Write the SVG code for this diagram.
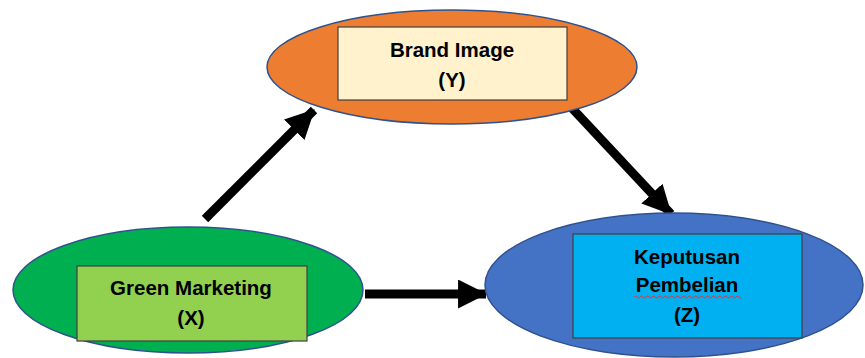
<svg xmlns="http://www.w3.org/2000/svg" width="865" height="358" viewBox="0 0 865 358">
<style>
.ell{stroke:#2F528F;stroke-width:1.5}
.box{stroke:#404040;stroke-width:1.2}
.lbl{font-family:"Liberation Sans",Arial,sans-serif;font-weight:bold;font-size:20.5px;fill:#000;text-anchor:middle}
.con{stroke:#000;stroke-width:9;fill:none}
</style>
<defs>
<marker id="ah" viewBox="0 0 28 28" refX="27" refY="14" markerWidth="29" markerHeight="29" markerUnits="userSpaceOnUse" orient="auto">
<path d="M0,0 L28,14 L0,28 z" fill="#000"/>
</marker>
</defs>
<rect width="865" height="358" fill="#fff"/>
<g id="connectors">
<line class="con" x1="205" y1="219" x2="314" y2="110" marker-end="url(#ah)"/>
<line class="con" x1="570" y1="106" x2="671" y2="214" marker-end="url(#ah)"/>
<line class="con" x1="365" y1="294" x2="486" y2="294" marker-end="url(#ah)"/>
</g>
<g id="brand-image">
<ellipse class="ell" cx="452" cy="67" rx="185" ry="57" fill="#ED7D31"/>
<rect class="box" x="338" y="27" width="229" height="73" fill="#FFF2CC"/>
<text class="lbl" x="452" y="57">Brand Image</text>
<text class="lbl" x="452" y="87">(Y)</text>
</g>
<g id="green-marketing">
<ellipse class="ell" cx="188" cy="290" rx="175" ry="63" fill="#00B050"/>
<rect class="box" x="77" y="266" width="230" height="75" fill="#92D050"/>
<text class="lbl" x="191" y="295">Green Marketing</text>
<text class="lbl" x="191" y="325">(X)</text>
</g>
<g id="keputusan-pembelian">
<ellipse class="ell" cx="674" cy="285" rx="189" ry="72" fill="#4472C4"/>
<rect class="box" x="573" y="234" width="229" height="104" fill="#00B0F0"/>
<text class="lbl" x="687" y="264">Keputusan</text>
<text class="lbl" x="687" y="292">Pembelian</text>
<path d="M634,297 q1.5,-2 3,0 t3,0 t3,0 t3,0 t3,0 t3,0 t3,0 t3,0 t3,0 t3,0 t3,0 t3,0 t3,0 t3,0 t3,0 t3,0 t3,0 t3,0 t3,0 t3,0 t3,0 t3,0 t3,0 t3,0 t3,0 t3,0 t3,0 t3,0 t3,0 t3,0 t3,0 t3,0 t3,0 t3,0 t3,0 t3,0" fill="none" stroke="#E03030" stroke-width="0.8"/>
<text class="lbl" x="687" y="322">(Z)</text>
</g>
</svg>
